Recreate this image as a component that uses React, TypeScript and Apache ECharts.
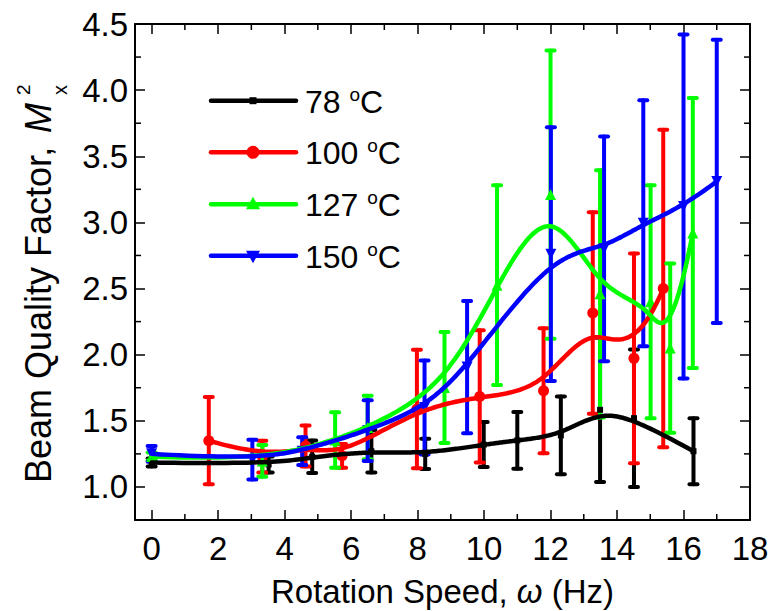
import React, { useEffect, useRef } from 'react';
import * as echarts from 'echarts';

// ---- axis ticks / labels ----
const xTickLabels = [0, 2, 4, 6, 8, 10, 12, 14, 16, 18];
const xMinorTicks = [1, 3, 5, 7, 9, 11, 13, 15, 17];
const yTickLabels = [1.0, 1.5, 2.0, 2.5, 3.0, 3.5, 4.0, 4.5];
const yMinorTicks = [1.25, 1.75, 2.25, 2.75, 3.25, 3.75, 4.25];
const X_MIN = -0.5;
const X_MAX = 18;
const Y_MIN = 0.75;
const Y_MAX = 4.5;

// ---- data: rotation speed (Hz), M^2, error ----
const temps = ['78', '100', '127', '150'];

const x78 = [0, 3.52, 4.83, 6.61, 8.23, 9.99, 11.0, 12.31, 13.49, 14.51, 16.3];
const y78 = [1.185, 1.17, 1.228, 1.27, 1.25, 1.32, 1.352, 1.39, 1.583, 1.52, 1.27];
const e78 = [0.03, 0.06, 0.123, 0.16, 0.115, 0.17, 0.215, 0.294, 0.545, 0.52, 0.25];

const x100 = [1.72, 3.33, 4.63, 5.73, 7.98, 9.87, 11.79, 13.27, 14.51, 15.39];
const y100 = [1.35, 1.23, 1.31, 1.235, 1.59, 1.684, 1.727, 2.315, 1.972, 2.5];
const e100 = [0.33, 0.12, 0.155, 0.09, 0.448, 0.5, 0.472, 0.762, 0.793, 1.2];

const x127 = [0, 3.33, 5.52, 6.5, 8.81, 10.39, 12.0, 13.49, 15.01, 15.6, 16.28];
const y127 = [1.23, 1.197, 1.355, 1.45, 1.752, 2.525, 3.21, 2.46, 2.4, 2.05, 2.92];
const e127 = [0.03, 0.12, 0.21, 0.24, 0.42, 0.755, 1.09, 0.935, 0.88, 0.64, 1.02];

const x150 = [0, 3.03, 4.53, 6.5, 8.21, 9.49, 12.01, 13.61, 14.79, 16.0, 17.0];
const y150 = [1.25, 1.207, 1.27, 1.426, 1.6, 1.906, 2.76, 2.8, 2.994, 3.12, 3.31];
const e150 = [0.06, 0.15, 0.105, 0.23, 0.355, 0.5, 0.96, 0.85, 0.93, 1.3, 1.07];

const FONT = '"Liberation Sans", Arial, Helvetica, sans-serif';

type Def = {
  name: string;
  xs: number[];
  ys: number[];
  es: number[];
  color: string;
  symbol: string;
  size: number;
  rotate: number;
};

const defs: Def[] = [
  { name: temps[0], xs: x78, ys: y78, es: e78, color: '#000000', symbol: 'rect', size: 6, rotate: 0 },
  { name: temps[1], xs: x100, ys: y100, es: e100, color: '#ff0000', symbol: 'circle', size: 11, rotate: 0 },
  { name: temps[2], xs: x127, ys: y127, es: e127, color: '#00ff00', symbol: 'triangle', size: 11, rotate: 0 },
  { name: temps[3], xs: x150, ys: y150, es: e150, color: '#0000ff', symbol: 'triangle', size: 11, rotate: 180 },
];

// Open-uniform cubic B-spline through the data points as control points
// (the "B-Spline" connection style of the original plot).
function bspline(xs: number[], ys: number[], samples: number): number[][] {
  const p = 3;
  const n = xs.length - 1;
  const knots: number[] = [];
  for (let i = 0; i <= n + p + 1; i++) {
    if (i <= p) knots.push(0);
    else if (i >= n + 1) knots.push(n - p + 1);
    else knots.push(i - p);
  }
  const uMax = n - p + 1;
  const out: number[][] = [];
  for (let s = 0; s <= samples; s++) {
    const u = (uMax * s) / samples;
    let k = p;
    while (k < n && u >= knots[k + 1]) k++;
    const d: number[][] = [];
    for (let j = 0; j <= p; j++) d.push([xs[j + k - p], ys[j + k - p]]);
    for (let r = 1; r <= p; r++) {
      for (let j = p; j >= r; j--) {
        const den = knots[j + 1 + k - r] - knots[j + k - p];
        const a = den === 0 ? 0 : (u - knots[j + k - p]) / den;
        d[j] = [(1 - a) * d[j - 1][0] + a * d[j][0], (1 - a) * d[j - 1][1] + a * d[j][1]];
      }
    }
    out.push(d[p]);
  }
  return out;
}

function buildOption() {
  const series: any[] = [];

  // minor ticks (inside, all four sides)
  series.push({
    type: 'custom',
    silent: true,
    clip: false,
    data: xMinorTicks.map((v) => [v, Y_MIN]),
    renderItem: (_p: any, api: any) => {
      const v = api.value(0);
      const b = api.coord([v, Y_MIN]);
      const t = api.coord([v, Y_MAX]);
      return {
        type: 'group',
        children: [
          { type: 'line', shape: { x1: b[0], y1: b[1], x2: b[0], y2: b[1] - 6 }, style: { stroke: '#000', lineWidth: 1.5 } },
          { type: 'line', shape: { x1: t[0], y1: t[1], x2: t[0], y2: t[1] + 6 }, style: { stroke: '#000', lineWidth: 1.5 } },
        ],
      };
    },
  });
  series.push({
    type: 'custom',
    silent: true,
    clip: false,
    data: yMinorTicks.map((v) => [X_MIN, v]),
    renderItem: (_p: any, api: any) => {
      const v = api.value(1);
      const l = api.coord([X_MIN, v]);
      const r = api.coord([X_MAX, v]);
      return {
        type: 'group',
        children: [
          { type: 'line', shape: { x1: l[0], y1: l[1], x2: l[0] + 6, y2: l[1] }, style: { stroke: '#000', lineWidth: 1.5 } },
          { type: 'line', shape: { x1: r[0], y1: r[1], x2: r[0] - 6, y2: r[1] }, style: { stroke: '#000', lineWidth: 1.5 } },
        ],
      };
    },
  });

  defs.forEach((d) => {
    series.push({
      type: 'line',
      name: d.name,
      data: bspline(d.xs, d.ys, 240),
      showSymbol: false,
      symbol: 'none',
      smooth: false,
      silent: true,
      lineStyle: { color: d.color, width: 4.5, cap: 'round', join: 'round' },
    });
    series.push({
      type: 'custom',
      silent: true,
      clip: false,
      data: d.xs.map((x, j) => [x, d.ys[j] - d.es[j], d.ys[j] + d.es[j]]),
      encode: { x: 0, y: [1, 2] },
      renderItem: (_p: any, api: any) => {
        const x = api.value(0);
        const lo = api.coord([x, api.value(1)]);
        const hi = api.coord([x, api.value(2)]);
        const hw = 4;
        const mk = () => ({ stroke: d.color, lineWidth: 4, lineCap: 'round' });
        return {
          type: 'group',
          children: [
            { type: 'line', shape: { x1: lo[0], y1: lo[1], x2: hi[0], y2: hi[1] }, style: mk() },
            { type: 'line', shape: { x1: lo[0] - hw, y1: lo[1], x2: lo[0] + hw, y2: lo[1] }, style: mk() },
            { type: 'line', shape: { x1: hi[0] - hw, y1: hi[1], x2: hi[0] + hw, y2: hi[1] }, style: mk() },
          ],
        };
      },
    });
    series.push({
      type: 'scatter',
      silent: true,
      data: d.xs.map((x, j) => [x, d.ys[j]]),
      symbol: d.symbol,
      symbolSize: d.size,
      symbolRotate: d.rotate,
      itemStyle: { color: d.color, opacity: 1 },
    });
  });

  // legend (manual)
  const rows = [100.7, 152.3, 204.3, 255.7];
  const legendChildren: any[] = [];
  defs.forEach((d, i) => {
    const y = rows[i];
    legendChildren.push({
      type: 'line',
      shape: { x1: 211, y1: y, x2: 296, y2: y },
      style: { stroke: d.color, lineWidth: 4.5, lineCap: 'round' },
    });
    if (d.symbol === 'rect') {
      legendChildren.push({ type: 'rect', shape: { x: 249.5, y: y - 3.5, width: 7, height: 7 }, style: { fill: d.color } });
    } else if (d.symbol === 'circle') {
      legendChildren.push({ type: 'circle', shape: { cx: 253, cy: y, r: 6.5 }, style: { fill: d.color } });
    } else if (d.rotate === 0) {
      legendChildren.push({
        type: 'polygon',
        shape: { points: [[253, y - 7.5], [246, y + 5], [260, y + 5]] },
        style: { fill: d.color },
      });
    } else {
      legendChildren.push({
        type: 'polygon',
        shape: { points: [[253, y + 7.5], [246, y - 5], [260, y - 5]] },
        style: { fill: d.color },
      });
    }
    legendChildren.push({
      type: 'text',
      x: 305,
      y: y + 1,
      style: {
        text: `{a|${d.name} }{s|o}{a|C}`,
        rich: {
          a: { fontSize: 32, fontFamily: FONT, fill: '#000', color: '#000', lineHeight: 34 },
          s: { fontSize: 19, fontFamily: FONT, fill: '#000', color: '#000', verticalAlign: 'top', lineHeight: 22 },
        },
        fill: '#000',
        align: 'left',
        verticalAlign: 'middle',
        textAlign: 'left',
        textVerticalAlign: 'middle',
      },
    });
  });

  const yTitle = {
    type: 'group',
    x: 38.9,
    y: 483,
    rotation: Math.PI / 2,
    children: [
      {
        type: 'text',
        x: 0,
        y: 0,
        style: {
          text: 'Beam Quality Factor, ',
          fontSize: 36,
          fontFamily: FONT,
          fill: '#000',
          align: 'left',
          verticalAlign: 'middle',
          textAlign: 'left',
          textVerticalAlign: 'middle',
        },
      },
      {
        type: 'text',
        x: 350,
        y: 0,
        style: {
          text: 'M',
          fontSize: 36,
          fontStyle: 'italic',
          fontFamily: FONT,
          fill: '#000',
          align: 'left',
          verticalAlign: 'middle',
          textAlign: 'left',
          textVerticalAlign: 'middle',
        },
      },
      {
        type: 'text',
        x: 388,
        y: 21,
        style: {
          text: 'x',
          fontSize: 20,
          fontFamily: FONT,
          fill: '#000',
          align: 'left',
          verticalAlign: 'middle',
          textAlign: 'left',
          textVerticalAlign: 'middle',
        },
      },
      {
        type: 'text',
        x: 388,
        y: -15,
        style: {
          text: '2',
          fontSize: 19,
          fontFamily: FONT,
          fill: '#000',
          align: 'left',
          verticalAlign: 'middle',
          textAlign: 'left',
          textVerticalAlign: 'middle',
        },
      },
    ],
  };

  const xTitle = {
    type: 'text',
    x: 271,
    y: 591,
    style: {
      text: '{a|Rotation Speed, }{b|ω}{a| (Hz)}',
      rich: {
        a: { fontSize: 33, fontFamily: FONT, fill: '#000', color: '#000' },
        b: { fontSize: 33, fontFamily: FONT, fontStyle: 'italic', fill: '#000', color: '#000' },
      },
      fill: '#000',
      align: 'left',
      verticalAlign: 'middle',
      textAlign: 'left',
      textVerticalAlign: 'middle',
    },
  };

  const axisLineStyle = { color: '#000', width: 2 };
  const tickStyle = { color: '#000', width: 1.5 };

  return {
    animation: false,
    backgroundColor: '#ffffff',
    grid: { left: 135, right: 30, top: 24, bottom: 91, containLabel: false, outerBoundsMode: 'none' },
    xAxis: [
      {
        type: 'value',
        position: 'bottom',
        min: X_MIN,
        max: X_MAX,
        splitLine: { show: false },
        axisLine: { show: true, onZero: false, lineStyle: axisLineStyle },
        axisTick: { show: true, inside: true, length: 10, customValues: xTickLabels, lineStyle: tickStyle },
        axisLabel: {
          show: true,
          customValues: xTickLabels,
          fontSize: 33,
          fontFamily: FONT,
          color: '#000',
          margin: 12,
          formatter: (v: number) => String(v),
        },
      },
      {
        type: 'value',
        position: 'top',
        min: X_MIN,
        max: X_MAX,
        splitLine: { show: false },
        axisLine: { show: true, onZero: false, lineStyle: axisLineStyle },
        axisTick: { show: true, inside: true, length: 10, customValues: xTickLabels, lineStyle: tickStyle },
        axisLabel: { show: false },
      },
    ],
    yAxis: [
      {
        type: 'value',
        position: 'left',
        min: Y_MIN,
        max: Y_MAX,
        splitLine: { show: false },
        axisLine: { show: true, onZero: false, lineStyle: axisLineStyle },
        axisTick: { show: true, inside: true, length: 10, customValues: yTickLabels, lineStyle: tickStyle },
        axisLabel: {
          show: true,
          customValues: yTickLabels,
          fontSize: 33,
          fontFamily: FONT,
          color: '#000',
          margin: 7,
          formatter: (v: number) => v.toFixed(1),
        },
      },
      {
        type: 'value',
        position: 'right',
        min: Y_MIN,
        max: Y_MAX,
        splitLine: { show: false },
        axisLine: { show: true, onZero: false, lineStyle: axisLineStyle },
        axisTick: { show: true, inside: true, length: 10, customValues: yTickLabels, lineStyle: tickStyle },
        axisLabel: { show: false },
      },
    ],
    graphic: [
      { type: 'group', children: legendChildren },
      yTitle,
      xTitle,
    ],
    series,
  };
}

export default function App() {
  const ref = useRef<HTMLDivElement>(null);
  useEffect(() => {
    if (!ref.current) return;
    const chart = echarts.init(ref.current, undefined, { renderer: 'svg' });
    chart.setOption(buildOption() as any);
    return () => {
      chart.dispose();
    };
  }, []);
  return (
    <div
      ref={ref}
      style={{ position: 'fixed', left: 0, top: 0, width: 780, height: 611, background: '#fff' }}
    />
  );
}
